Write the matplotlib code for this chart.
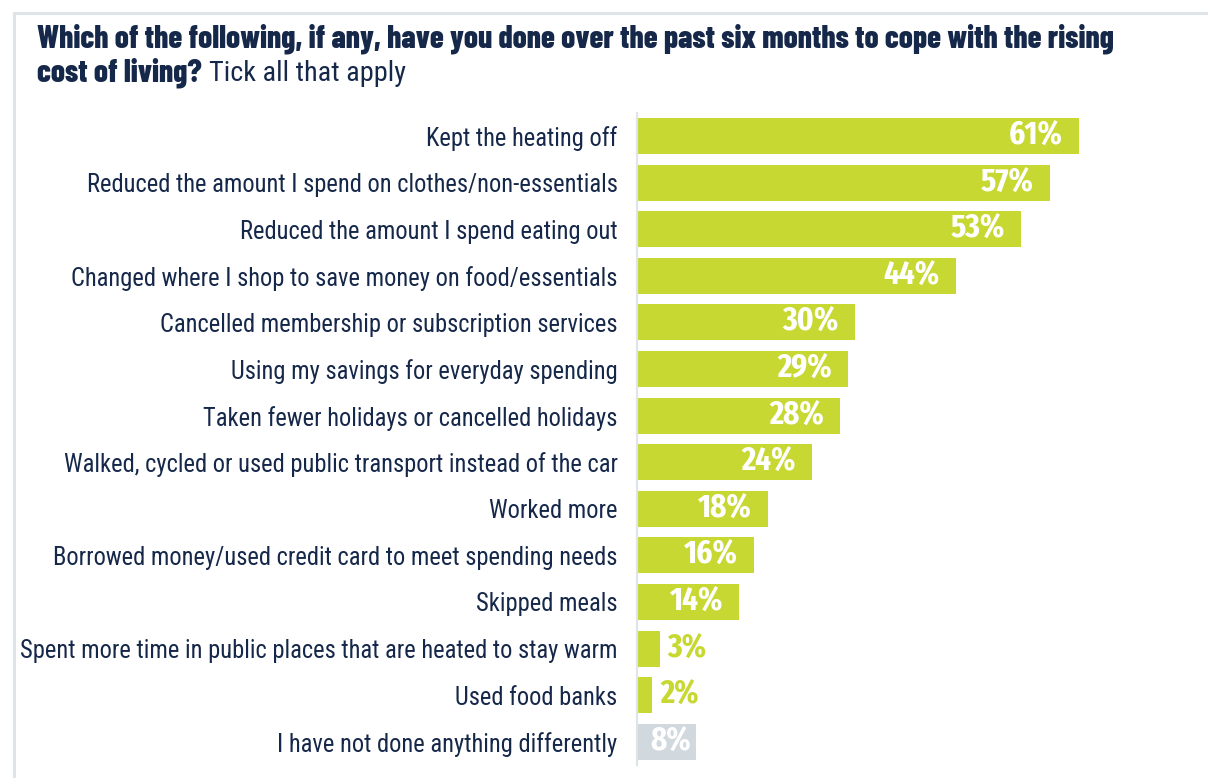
import matplotlib
matplotlib.use("Agg")
import matplotlib.pyplot as plt
from matplotlib import font_manager as fm
from matplotlib.lines import Line2D

# Survey responses (share of respondents, %)
categories = [
    "Kept the heating off",
    "Reduced the amount I spend on clothes/non-essentials",
    "Reduced the amount I spend eating out",
    "Changed where I shop to save money on food/essentials",
    "Cancelled membership or subscription services",
    "Using my savings for everyday spending",
    "Taken fewer holidays or cancelled holidays",
    "Walked, cycled or used public transport instead of the car",
    "Worked more",
    "Borrowed money/used credit card to meet spending needs",
    "Skipped meals",
    "Spent more time in public places that are heated to stay warm",
    "Used food banks",
    "I have not done anything differently",
]
values = [61, 57, 53, 44, 30, 29, 28, 24, 18, 16, 14, 3, 2, 8]
is_none_option = [False] * 13 + [True]

title_bold = "Which of the following, if any, have you done over the past six months to cope with the rising"
title_bold2 = "cost of living?"
title_regular = "Tick all that apply"

W, H = 1208, 778
NAVY = "#16284a"
GREEN = "#c7d833"
GREY = "#d1d8de"
RULE = "#dfe4e8"

available = {f.name for f in fm.fontManager.ttflist}


def pick(*names):
    for n in names:
        if n in available:
            return [n, "DejaVu Sans"]
    return ["DejaVu Sans"]


HEAD_FONT = pick("Barlow Condensed", "Roboto Condensed", "Liberation Sans Narrow")
BODY_FONT = pick("Roboto Condensed", "Barlow Semi Condensed", "Liberation Sans Narrow")
VALUE_FONT = pick("Fira Sans Extra Condensed", "Barlow Condensed", "Roboto Condensed")
HEAVY = 800

fig = plt.figure(figsize=(W / 100, H / 100), dpi=100)
fig.patch.set_facecolor("white")
renderer = fig.canvas.get_renderer()


def fx(px):
    return px / W


def fy(py):
    return 1 - py / H


def fit_size(text, width_px, **kw):
    """Font size (pt) at which `text` spans width_px pixels."""
    probe = fig.text(0, 0, text, fontsize=20, **kw)
    w = probe.get_window_extent(renderer).width
    probe.remove()
    return 20 * width_px / w


# frame rules (top and left)
fig.add_artist(Line2D([fx(14), 1.0], [fy(13), fy(13)], color=RULE, lw=2.2))
fig.add_artist(Line2D([fx(14), fx(14)], [fy(13), 0.0], color=RULE, lw=2.2))

# heading
head_kw = dict(fontweight=HEAVY, family=HEAD_FONT)
head_size = fit_size(title_bold, 1073, **head_kw)
fig.text(fx(37), fy(48), title_bold, fontsize=head_size, color=NAVY,
         va="baseline", ha="left", **head_kw)
t2 = fig.text(fx(37), fy(81), title_bold2, fontsize=head_size, color=NAVY,
              va="baseline", ha="left", **head_kw)
bb = t2.get_window_extent(renderer)
sub_size = fit_size(title_regular, 196, family=BODY_FONT)
fig.text((bb.x1 + 7) / W, fy(81), title_regular, fontsize=sub_size,
         family=BODY_FONT, color=NAVY, va="baseline", ha="left")

# plotting area: 0% at x=638 px, 7.23 px per percentage point
ax_left, ax_top, ax_bottom = 637, 113, 765
px_per_pt = 7.23
ax_right = 1202
ax = fig.add_axes([fx(ax_left), fy(ax_bottom), (ax_right - ax_left) / W,
                   (ax_bottom - ax_top) / H])
pitch = 46.6
first_center = 136
ax.set_ylim((ax_bottom - first_center) / pitch, (ax_top - first_center) / pitch)
ax.set_xlim(0, (ax_right - ax_left) / px_per_pt)

ypos = list(range(len(categories)))
colors = [GREY if n else GREEN for n in is_none_option]
ax.barh(ypos, values, height=36 / pitch, color=colors, left=0.14)

for s in ["top", "right", "bottom"]:
    ax.spines[s].set_visible(False)
ax.spines["left"].set_color(RULE)
ax.spines["left"].set_linewidth(1.6)
ax.set_xticks([])
ax.set_yticks(ypos)
longest = max(categories, key=len)
label_size = fit_size(longest, 596, family=BODY_FONT)
ax.set_yticklabels(categories, family=BODY_FONT, fontsize=label_size, color=NAVY)
ax.tick_params(axis="y", length=0, pad=14)

val_kw = dict(fontweight="bold", family=VALUE_FONT)
val_size = fit_size("61%", 54, **val_kw)
for y, v, none in zip(ypos, values, is_none_option):
    end_px = v * px_per_pt
    if end_px > 80:
        ax.annotate(f"{v}%", xy=(v, y), xytext=(-15, 0), textcoords="offset pixels",
                    ha="right", va="center", color="white", fontsize=val_size, **val_kw)
    elif none:
        ax.annotate(f"{v}%", xy=(v, y), xytext=(-4, 0), textcoords="offset pixels",
                    ha="right", va="center", color="white", fontsize=val_size, **val_kw)
    else:
        ax.annotate(f"{v}%", xy=(v, y), xytext=(9, 0), textcoords="offset pixels",
                    ha="left", va="center", color=GREEN, fontsize=val_size, **val_kw)

fig.savefig("out.png", dpi=100, facecolor="white")
